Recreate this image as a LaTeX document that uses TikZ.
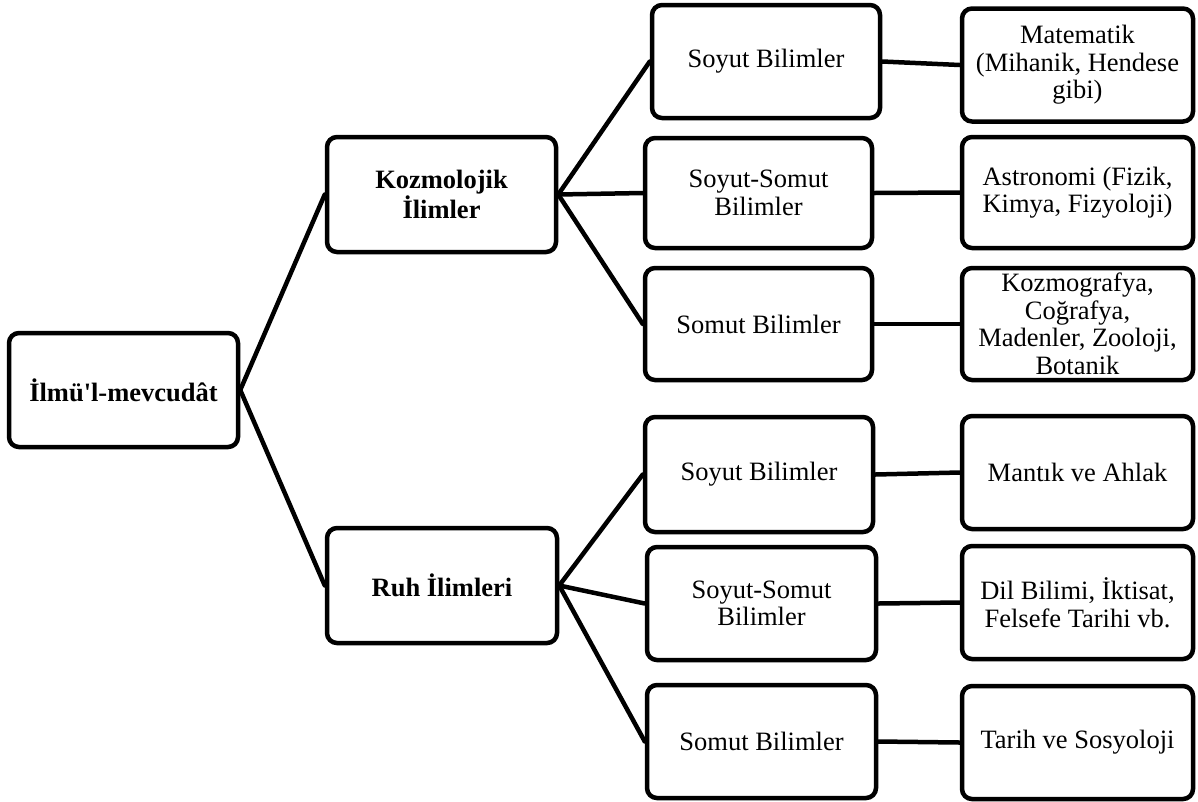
\documentclass[tikz,border=0pt]{standalone}
\usepackage{fontspec}
\newfontfamily\tnr{Liberation Serif}
\begin{document}
\begin{tikzpicture}[x=1pt,y=-1pt,
  box/.style={draw=black, line width=4.5pt, rounded corners=10pt, fill=white,
    inner sep=0pt, align=center, font=\tnr\fontsize{26.5}{27.5}\selectfont},
  boldbox/.style={box, font=\tnr\bfseries\fontsize{26.5}{27.5}\selectfont},
  link/.style={line width=4.5pt, line cap=round}]
\useasboundingbox (0,0) rectangle (1198,801);
% level 1
\node[boldbox, minimum width=229pt, minimum height=114pt] (root) at (123.5,390) {İlmü'l-mevcudât};
% level 2
\node[boldbox, minimum width=229pt, minimum height=115pt] (koz) at (441.5,194.5) {Kozmolojik\\İlimler};
\node[boldbox, minimum width=230pt, minimum height=115pt] (ruh) at (442,585.5) {Ruh İlimleri};
% level 3
\node[box, minimum width=228pt, minimum height=113pt] (ks) at (766,61.5) {Soyut Bilimler};
\node[box, minimum width=227pt, minimum height=110pt] (kss) at (758.5,193) {Soyut-Somut\\Bilimler};
\node[box, minimum width=227pt, minimum height=112pt] (kso) at (758.5,324) {Somut Bilimler};
\node[box, minimum width=228pt, minimum height=115pt] (rs) at (759,474.5) {Soyut Bilimler};
\node[box, minimum width=229pt, minimum height=113pt] (rss) at (761.5,603.5) {Soyut-Somut\\Bilimler};
\node[box, minimum width=229pt, minimum height=113pt] (rso) at (761.5,741.5) {Somut Bilimler};
% level 4
\node[box, minimum width=231pt, minimum height=113pt] (mat) at (1077.5,65) {Matematik\\(Mihanik, Hendese\\gibi)};
\node[box, minimum width=231pt, minimum height=111pt] (ast) at (1077.5,192.5) {Astronomi (Fizik,\\Kimya, Fizyoloji)};
\node[box, minimum width=231pt, minimum height=112pt] (kzm) at (1077.5,324) {Kozmografya,\\Coğrafya,\\Madenler, Zooloji,\\Botanik};
\node[box, minimum width=231pt, minimum height=113pt] (man) at (1077.5,472.5) {Mantık ve Ahlak};
\node[box, minimum width=231pt, minimum height=113pt] (dil) at (1077.5,602.5) {Dil Bilimi, İktisat,\\Felsefe Tarihi vb.};
\node[box, minimum width=231pt, minimum height=113pt] (tar) at (1077.5,742.5) {Tarih ve Sosyoloji};
% connectors
\draw[link] (root.east) -- (koz.west);
\draw[link] (root.east) -- (ruh.west);
\draw[link] (koz.east) -- (ks.west);
\draw[link] (koz.east) -- (kss.west);
\draw[link] (koz.east) -- (kso.west);
\draw[link] (ruh.east) -- (rs.west);
\draw[link] (ruh.east) -- (rss.west);
\draw[link] (ruh.east) -- (rso.west);
\draw[link] (ks.east) -- (mat.west);
\draw[link] (kss.east) -- (ast.west);
\draw[link] (kso.east) -- (kzm.west);
\draw[link] (rs.east) -- (man.west);
\draw[link] (rss.east) -- (dil.west);
\draw[link] (rso.east) -- (tar.west);
\end{tikzpicture}
\end{document}
